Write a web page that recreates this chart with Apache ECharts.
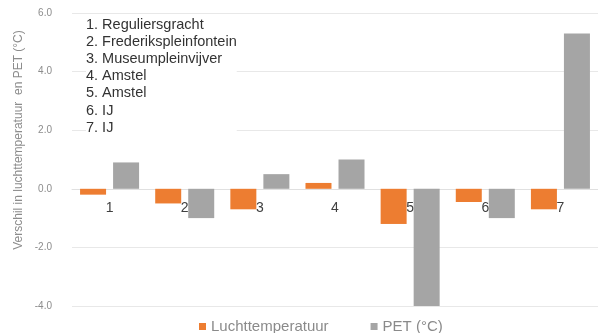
<!DOCTYPE html>
<html><head><meta charset="utf-8">
<script src="https://cdn.jsdelivr.net/npm/echarts@6/dist/echarts.min.js"></script>
<style>html,body{margin:0;padding:0;background:#fff}#c{width:598px;height:333px}</style>
</head><body><div id="c"></div>
<script>
const categories = ['1','2','3','4','5','6','7'];
const luchttemperatuur = [-0.2, -0.5, -0.7, 0.2, -1.2, -0.45, -0.7];
const pet = [0.9, -1.0, 0.5, 1.0, -4.0, -1.0, 5.3];
const locations = ['1. Reguliersgracht','2. Frederikspleinfontein','3. Museumpleinvijver','4. Amstel','5. Amstel','6. IJ','7. IJ'];
const seriesNames = ['Luchttemperatuur','PET (°C)'];
const yTicks = {min: -4, max: 6, interval: 2};
const yTitle = 'Verschil in luchttemperatuur  en PET (°C)';

const FONT = 'Liberation Sans, Arial, sans-serif';
const gridTop = 13, gridBottom = 27, H = 333;
const plotH = H - gridTop - gridBottom;
// move the category axis to the value 0
const zeroOffset = -plotH * (0 - yTicks.min) / (yTicks.max - yTicks.min);

const chart = echarts.init(document.getElementById('c'));
chart.setOption({
  animation: false,
  textStyle: {fontFamily: FONT},
  grid: {left: 72, right: -5, top: gridTop, bottom: gridBottom},
  legend: {
    data: seriesNames, left: 194, top: 314, itemWidth: 7, itemHeight: 7, itemGap: 42,
    icon: 'rect', textStyle: {color: '#8a8a8a', fontSize: 15}
  },
  graphic: [{
    type: 'text', left: 86, top: 16, z: 100,
    style: {text: locations.join('\n'), fontSize: 14.5, lineHeight: 17.2, fill: '#333333', fontFamily: FONT,
            backgroundColor: '#ffffff'}
  }, {
    type: 'text', x: 19, y: 140, rotation: Math.PI / 2, z: 100,
    style: {text: yTitle, fontSize: 12, fill: '#8c8c8c', fontFamily: FONT, align: 'center', verticalAlign: 'middle'}
  }],
  xAxis: {
    type: 'category', data: categories, offset: zeroOffset,
    axisLine: {onZero: false, lineStyle: {color: '#e0e0e0'}},
    axisTick: {show: false},
    axisLabel: {color: '#404040', fontSize: 14, margin: 12}
  },
  yAxis: {
    type: 'value', min: yTicks.min, max: yTicks.max, interval: yTicks.interval,
    axisLabel: {color: '#8c8c8c', fontSize: 10, margin: 20, formatter: v => v.toFixed(1)},
    splitLine: {lineStyle: {color: '#e8e8e8'}},
    axisLine: {show: false}, axisTick: {show: false}
  },
  series: [
    {name: seriesNames[0], type: 'bar', data: luchttemperatuur, barWidth: 26, barGap: '27%', itemStyle: {color: '#ED7D31'}},
    {name: seriesNames[1], type: 'bar', data: pet, barWidth: 26, itemStyle: {color: '#A5A5A5'}}
  ]
});
</script></body></html>
